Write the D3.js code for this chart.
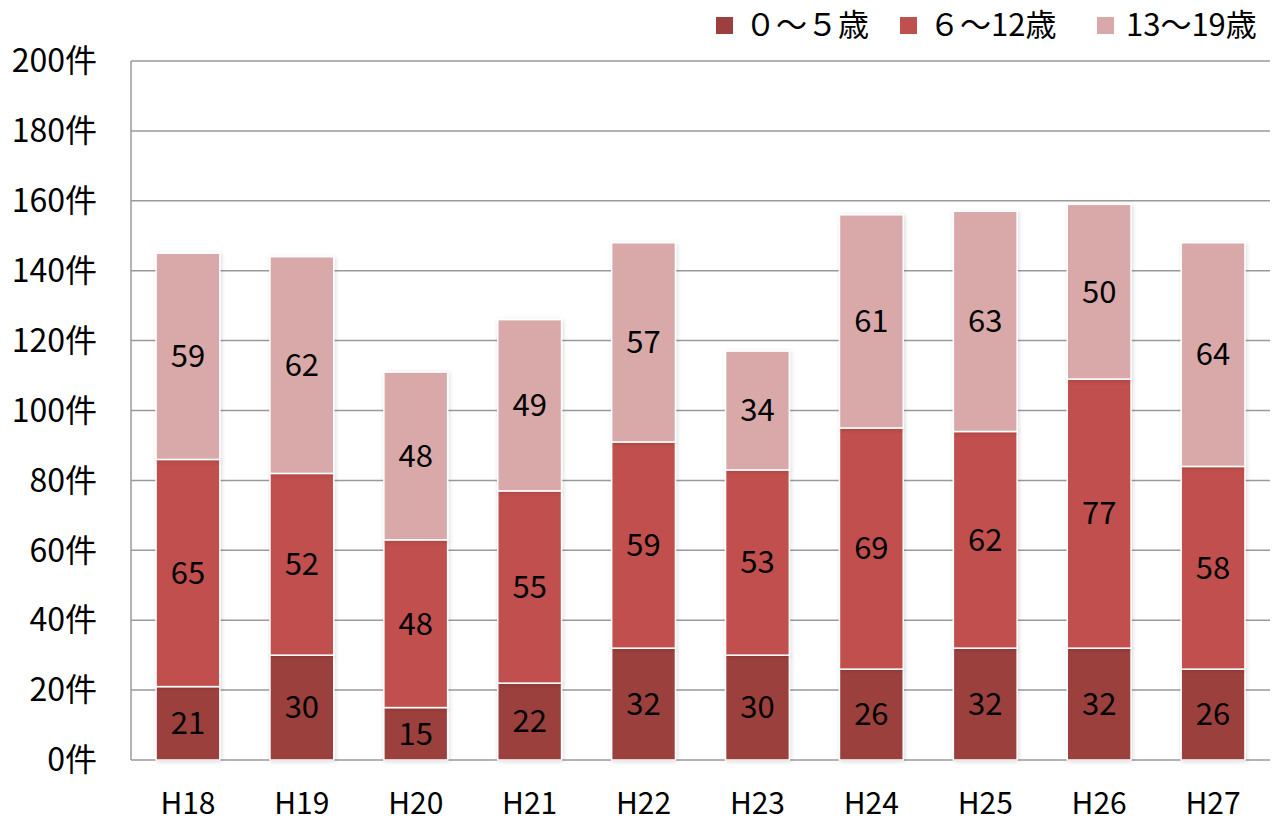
<!DOCTYPE html>
<html>
<head>
<meta charset="utf-8">
<script src="https://cdn.jsdelivr.net/npm/d3@7"></script>
<style>
  body { margin: 0; background: #fff; }
  text { font-family: "Noto Sans CJK JP", "Noto Sans", sans-serif; fill: #000; }
</style>
</head>
<body>
<svg id="chart" width="1277" height="823"></svg>
<script>
// Chart data
const years = ["H18", "H19", "H20", "H21", "H22", "H23", "H24", "H25", "H26", "H27"];
const ageGroups = ["０〜５歳", "６〜12歳", "13〜19歳"];
const age0to5 = [21, 30, 15, 22, 32, 30, 26, 32, 32, 26];
const age6to12 = [65, 52, 48, 55, 59, 53, 69, 62, 77, 58];
const age13to19 = [59, 62, 48, 49, 57, 34, 61, 63, 50, 64];
const yTicks = [0, 20, 40, 60, 80, 100, 120, 140, 160, 180, 200];
const colors = ["#9c3f3e", "#c0504d", "#d9a9a9"];

const svg = d3.select("#chart");
const margin = { top: 61, right: 7, bottom: 63, left: 131 };
const width = 1277 - margin.left - margin.right;
const height = 823 - margin.top - margin.bottom;

const g = svg.append("g")
  .attr("transform", "translate(" + margin.left + "," + margin.top + ")");

// build rows for stacking
const rows = years.map((y, i) => {
  let r = { year: y };
  r[ageGroups[0]] = age0to5[i];
  r[ageGroups[1]] = age6to12[i];
  r[ageGroups[2]] = age13to19[i];
  return r;
});
const series = d3.stack().keys(ageGroups)(rows);

const x = d3.scaleBand().domain(years).range([0, width]).paddingInner(0.44).paddingOuter(0.22);
const y = d3.scaleLinear().domain([0, 200]).range([height, 0]);

// gridlines
g.selectAll("line.grid").data(yTicks)
  .join("line")
  .attr("class", "grid")
  .attr("x1", 0).attr("x2", width)
  .attr("y1", d => y(d)).attr("y2", d => y(d))
  .attr("stroke", "#9a9a9a")
  .attr("stroke-width", 1.5);

// y axis line
g.append("line")
  .attr("x1", 0).attr("x2", 0)
  .attr("y1", 0).attr("y2", height)
  .attr("stroke", "#9a9a9a")
  .attr("stroke-width", 1.5);

// y tick labels
g.selectAll("text.ytick").data(yTicks)
  .join("text")
  .attr("class", "ytick")
  .attr("x", -34)
  .attr("y", d => y(d))
  .attr("dy", "0.35em")
  .attr("text-anchor", "end")
  .attr("font-size", "32px")
  .text(d => d + "件");

// shadow filter
const defs = svg.append("defs");
const f = defs.append("filter").attr("id", "shadow").attr("x", "-20%").attr("y", "-20%").attr("width", "140%").attr("height", "140%");
f.append("feDropShadow").attr("dx", 1).attr("dy", 1).attr("stdDeviation", 2).attr("flood-color", "#000").attr("flood-opacity", 0.15);

// bars
const layers = g.selectAll("g.layer").data(series)
  .join("g")
  .attr("class", "layer")
  .attr("fill", (d, i) => colors[i]);

layers.selectAll("rect").data(d => d)
  .join("rect")
  .attr("x", d => x(d.data.year))
  .attr("y", d => y(d[1]))
  .attr("width", x.bandwidth())
  .attr("height", d => y(d[0]) - y(d[1]))
  .attr("stroke", "#fff")
  .attr("stroke-width", 1.5)
  .attr("filter", "url(#shadow)");

layers.selectAll("text.val").data(d => d)
  .join("text")
  .attr("class", "val")
  .attr("x", d => x(d.data.year) + x.bandwidth() / 2)
  .attr("y", d => (y(d[0]) + y(d[1])) / 2)
  .attr("dy", "0.35em")
  .attr("text-anchor", "middle")
  .attr("font-size", "31px")
  .text(d => d[1] - d[0]);

// x labels
g.selectAll("text.xlab").data(years)
  .join("text")
  .attr("class", "xlab")
  .attr("x", d => x(d) + x.bandwidth() / 2)
  .attr("y", height + 43)
  .attr("dy", "0.35em")
  .attr("text-anchor", "middle")
  .attr("font-size", "30px")
  .text(d => d);

// legend
const legendX = [716, 900, 1097];
const legend = svg.selectAll("g.legend").data(ageGroups)
  .join("g")
  .attr("class", "legend")
  .attr("transform", (d, i) => "translate(" + legendX[i] + ",17)");
legend.append("rect")
  .attr("width", 17).attr("height", 17)
  .attr("fill", (d, i) => colors[i]);
legend.append("text")
  .attr("x", 29)
  .attr("y", 8)
  .attr("dy", "0.35em")
  .attr("font-size", "31px")
  .text(d => d);
</script>
</body>
</html>
